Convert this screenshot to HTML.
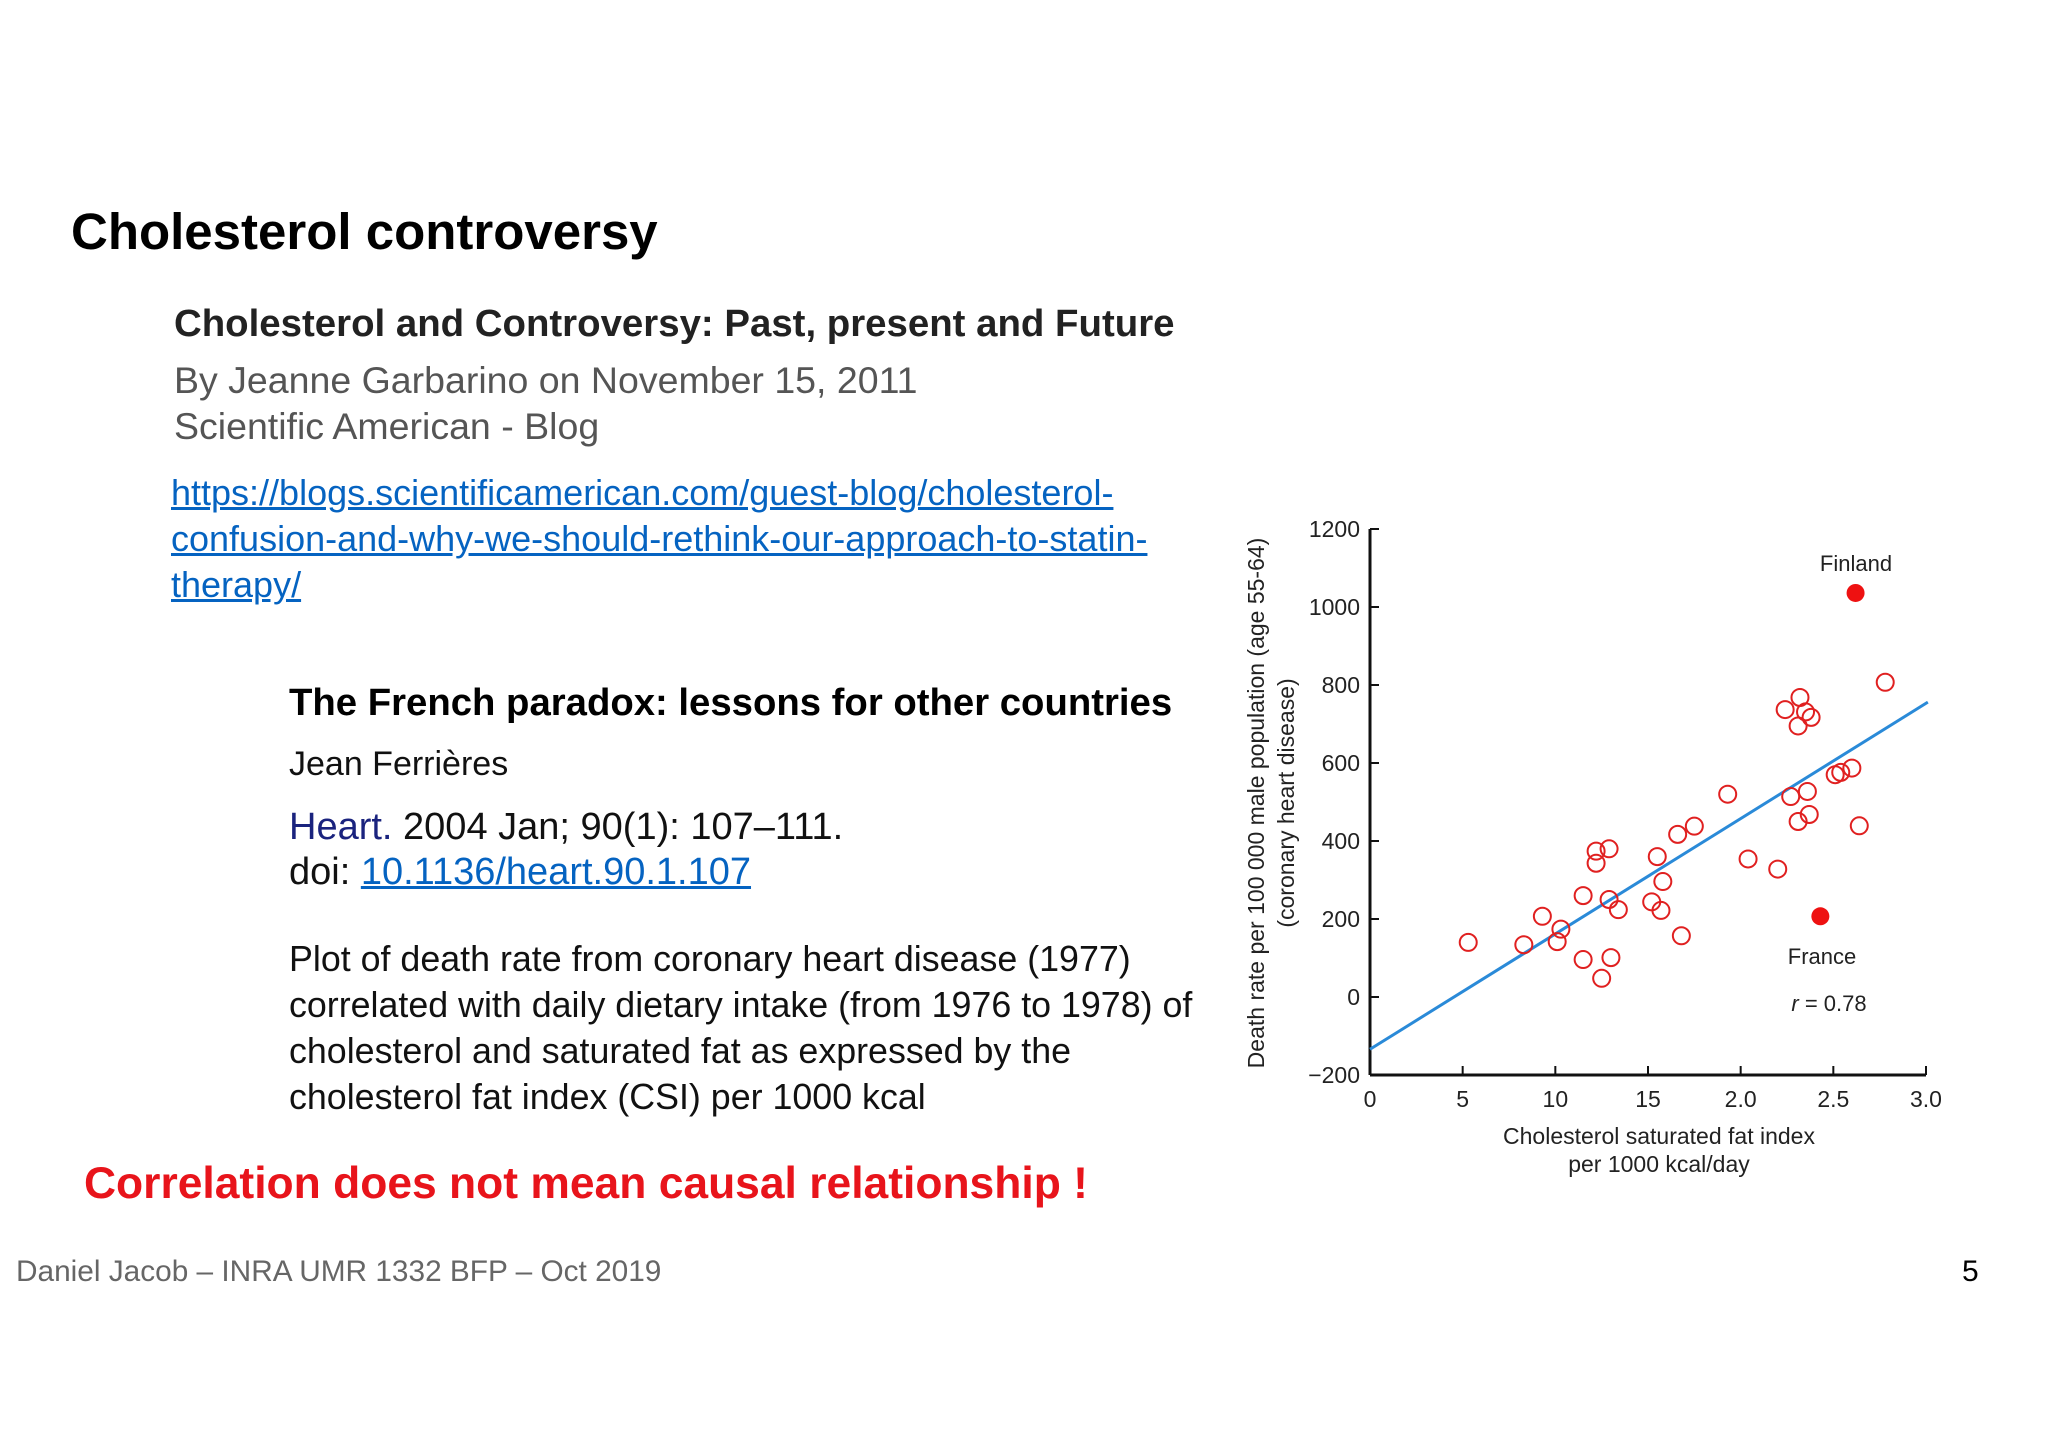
<!DOCTYPE html>
<html><head><meta charset="utf-8">
<style>
body{margin:0;width:2048px;height:1447px;background:#fff;position:relative;overflow:hidden;font-family:"Liberation Sans",sans-serif}
.t{position:absolute;white-space:nowrap;line-height:1}
a{color:#0563c1;text-decoration:underline}
</style></head><body>
<div class="t" style="left:71px;top:206px;font-size:51px;font-weight:bold;color:#000">Cholesterol controversy</div>
<div class="t" style="left:174px;top:305px;font-size:38.4px;font-weight:bold;color:#222">Cholesterol and Controversy: Past, present and Future</div>
<div class="t" style="left:174px;top:362px;font-size:37.5px;color:#555">By Jeanne Garbarino on November 15, 2011</div>
<div class="t" style="left:174px;top:408px;font-size:37.5px;color:#555">Scientific American - Blog</div>
<div class="t" style="left:171px;top:470px;font-size:36px;line-height:46px;color:#0563c1;text-decoration:underline">https://blogs.scientificamerican.com/guest-blog/cholesterol-<br>confusion-and-why-we-should-rethink-our-approach-to-statin-<br>therapy/</div>
<div class="t" style="left:289px;top:684px;font-size:38.3px;font-weight:bold;color:#000">The French paradox: lessons for other countries</div>
<div class="t" style="left:289px;top:747px;font-size:34px;color:#111">Jean Ferrières</div>
<div class="t" style="left:289px;top:808px;font-size:38px;color:#111"><span style="color:#1a237e">Heart.</span> 2004 Jan; 90(1): 107–111.</div>
<div class="t" style="left:289px;top:853px;font-size:38px;color:#111">doi: <a>10.1136/heart.90.1.107</a></div>
<div class="t" style="left:289px;top:936px;font-size:35.8px;line-height:46px;color:#111">Plot of death rate from coronary heart disease (1977)<br>correlated with daily dietary intake (from 1976 to 1978) of<br>cholesterol and saturated fat as expressed by the<br>cholesterol fat index (CSI) per 1000 kcal</div>
<div class="t" style="left:84px;top:1162px;font-size:44.4px;font-weight:bold;color:#e8141b">Correlation does not mean causal relationship !</div>
<div class="t" style="left:16px;top:1257px;font-size:29.8px;color:#666">Daniel Jacob – INRA UMR 1332 BFP – Oct 2019</div>
<div class="t" style="left:1962px;top:1257px;font-size:30px;color:#000">5</div>

<svg id="chart" width="2048" height="1447" style="position:absolute;left:0;top:0" font-family="Liberation Sans, sans-serif"></svg>
<script>
const xTicks=[0,0.5,1.0,1.5,2.0,2.5,3.0];
const xTickLabels=["0","5","10","15","2.0","2.5","3.0"];
const yTicks=[-200,0,200,400,600,800,1000,1200];
const yTickLabels=["\u2212200","0","200","400","600","800","1000","1200"];
const xs=[0.53,0.83,0.93,1.01,1.03,1.15,1.15,1.22,1.22,1.29,1.29,1.34,1.25,1.30,1.52,1.55,1.58,1.57,1.68,1.66,1.75,1.93,2.04,2.20,2.24,2.32,2.35,2.38,2.31,2.27,2.36,2.31,2.37,2.51,2.54,2.60,2.64,2.78];
const ys=[140,134,207,142,174,96,260,374,343,380,250,224,48,101,244,360,296,222,157,417,438,520,354,328,737,768,731,717,695,514,527,450,468,570,576,587,439,807];
const highlightNames=["Finland","France"];
const highlightX=[2.62,2.43];
const highlightY=[1036,207];
const fitX=[0,3.01];
const fitY=[-134,756];
const X0=1370,X1=1926,Y0=1075,Y1=529;
const sx=v=>X0+(v-0)/3*(X1-X0);
const sy=v=>Y0-(v+200)/1400*(Y0-Y1);
const svg=document.getElementById('chart');
const NS='http://www.w3.org/2000/svg';
function mk(t,a){const e=document.createElementNS(NS,t);for(const k in a)e.setAttribute(k,a[k]);svg.appendChild(e);return e;}
let e;
e=mk('line',{x1:X0,y1:Y1,x2:X0,y2:Y0,stroke:'#111','stroke-width':3});


e=mk('line',{x1:X0,y1:Y0,x2:X1,y2:Y0,stroke:'#111','stroke-width':3});


xTicks.forEach((v,i)=>{
 e=mk('line',{x1:sx(v),y1:Y0,x2:sx(v),y2:Y0-9,stroke:'#111','stroke-width':2});
 
 
 e=mk('text',{x:sx(v),y:Y0+32,'font-size':23,'text-anchor':'middle',fill:'#222'});e.textContent=xTickLabels[i];
 
 
});
yTicks.forEach((v,i)=>{
 e=mk('line',{x1:X0,y1:sy(v),x2:X0+9,y2:sy(v),stroke:'#111','stroke-width':2});
 
 
 e=mk('text',{x:X0-10,y:sy(v)+8,'font-size':23,'text-anchor':'end',fill:'#222'});e.textContent=yTickLabels[i];
 
 
});
e=mk('line',{x1:sx(fitX[0]),y1:sy(fitY[0]),x2:sx(fitX[1]),y2:sy(fitY[1]),stroke:'#2a8ad8','stroke-width':3});


xs.forEach((v,i)=>{
 e=mk('circle',{cx:sx(v),cy:sy(ys[i]),r:8.5,fill:'none',stroke:'#e02020','stroke-width':2});
 
 
});
highlightX.forEach((v,i)=>{
 e=mk('circle',{cx:sx(v),cy:sy(highlightY[i]),r:9,fill:'#ee1111'});
 
 
});
e=mk('text',{x:1856,y:571,'font-size':22,'text-anchor':'middle',fill:'#222'});e.textContent='Finland';


e=mk('text',{x:1822,y:964,'font-size':22,'text-anchor':'middle',fill:'#222'});e.textContent='France';


e=mk('text',{x:1829,y:1011,'font-size':22,'text-anchor':'middle',fill:'#222'});e.innerHTML='<tspan font-style="italic">r</tspan> = 0.78';


e=mk('text',{x:1659,y:1144,'font-size':23,'text-anchor':'middle',fill:'#222'});e.textContent='Cholesterol saturated fat index';


e=mk('text',{x:1659,y:1172,'font-size':23,'text-anchor':'middle',fill:'#222'});e.textContent='per 1000 kcal/day';


e=mk('text',{x:0,y:0,'font-size':23,'text-anchor':'middle',fill:'#222',transform:'translate(1264,803) rotate(-90)'});e.textContent='Death rate per 100 000 male population (age 55-64)';


e=mk('text',{x:0,y:0,'font-size':23,'text-anchor':'middle',fill:'#222',transform:'translate(1294,803) rotate(-90)'});e.textContent='(coronary heart disease)';


</script>
</body></html>
